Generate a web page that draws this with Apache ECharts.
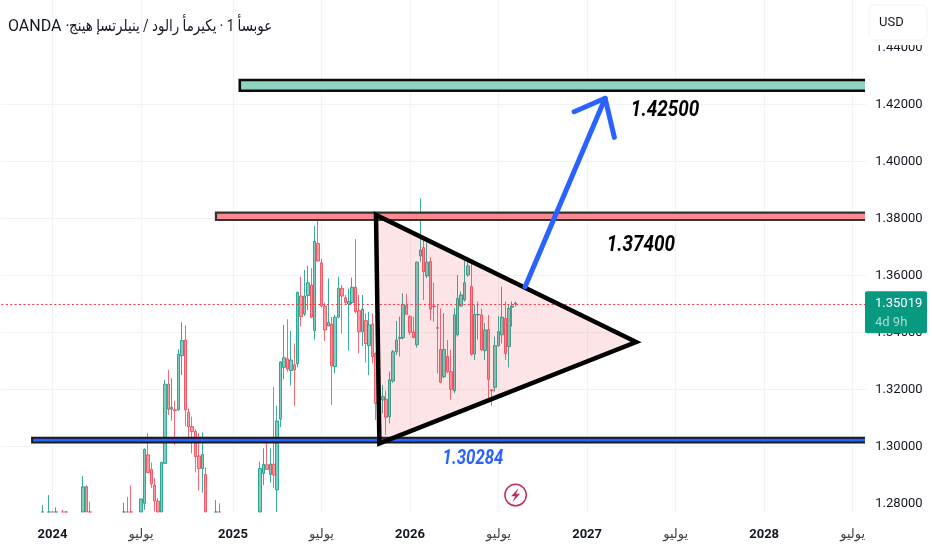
<!DOCTYPE html>
<html><head><meta charset="utf-8">
<style>html,body{margin:0;padding:0;background:#fff}#c{width:932px;height:550px}</style>
<script src="https://cdn.jsdelivr.net/npm/echarts@6/dist/echarts.min.js"></script>
</head><body><div id="c"></div>
<script>
const weekSlots = [12,14,15,16,18,19,24,25,26,36,37,38,41,42,43,44,45,46,47,48,49,50,51,52,53,54,55,56,57,58,59,60,63,64,76,77,78,79,80,81,82,83,84,85,86,87,88,89,90,91,92,93,94,95,96,97,98,99,100,101,102,103,104,105,106,107,108,109,110,111,112,113,114,115,116,117,118,119,120,121,122,123,124,125,126,127,128,129,130,131,132,133,134,135,136,137,138,139,140,141,142,143,144,145,146,147,148,149,150,151];
const opens = [1.268,1.268,1.274,1.27,1.274,1.274,1.27,1.2858,1.275,1.27,1.274,1.274,1.27,1.28,1.297,1.2919,1.2864,1.2808,1.272,1.294,1.3218,1.313,1.3128,1.3128,1.3318,1.3373,1.3119,1.3069,1.3052,1.2966,1.2922,1.2901,1.27,1.274,1.27,1.2905,1.2935,1.2901,1.2937,1.2847,1.3095,1.3277,1.3307,1.3266,1.3286,1.329,1.3527,1.3464,1.3529,1.3566,1.3406,1.3712,1.3644,1.3492,1.3422,1.3429,1.328,1.3453,1.3554,1.3521,1.3499,1.3504,1.3558,1.3476,1.3402,1.3441,1.3353,1.3429,1.3326,1.3133,1.3163,1.3165,1.3104,1.3229,1.3332,1.3379,1.3381,1.3494,1.3455,1.3401,1.3356,1.3668,1.3697,1.3598,1.3648,1.3492,1.3416,1.334,1.3244,1.3315,1.3262,1.3195,1.3391,1.3492,1.3514,1.3601,1.356,1.3324,1.3461,1.3461,1.3336,1.341,1.3198,1.3207,1.3353,1.3391,1.3449,1.335,1.3488,1.3499];
const closes = [1.272,1.274,1.27,1.274,1.27,1.27,1.2858,1.272,1.27,1.274,1.27,1.27,1.2815,1.2989,1.2908,1.2868,1.2808,1.272,1.2944,1.3218,1.313,1.3136,1.3125,1.3323,1.3371,1.3128,1.3069,1.3052,1.2964,1.2922,1.2972,1.27,1.274,1.27,1.2922,1.2937,1.2919,1.2938,1.2899,1.3089,1.3296,1.3311,1.3271,1.3303,1.3268,1.354,1.3455,1.3527,1.3574,1.3453,1.372,1.365,1.3492,1.3408,1.3435,1.3282,1.3453,1.3554,1.3527,1.3505,1.3508,1.3558,1.3473,1.3402,1.3481,1.3361,1.3426,1.3315,1.3151,1.3163,1.3174,1.3102,1.3233,1.3332,1.3373,1.3381,1.3498,1.3463,1.34,1.3382,1.3646,1.3689,1.3613,1.3646,1.3481,1.349,1.3414,1.3225,1.334,1.3262,1.32,1.3461,1.3519,1.3531,1.3574,1.3633,1.3323,1.3463,1.3463,1.3338,1.3408,1.3235,1.3195,1.3353,1.3402,1.3453,1.3326,1.3484,1.3492,1.3502];
const lows = [1.265,1.265,1.268,1.268,1.268,1.268,1.268,1.27,1.268,1.268,1.268,1.268,1.268,1.2777,1.2905,1.2853,1.2771,1.27,1.27,1.294,1.311,1.309,1.3005,1.3125,1.325,1.3071,1.3022,1.2975,1.2908,1.2844,1.2837,1.268,1.268,1.268,1.268,1.2864,1.2917,1.2873,1.2853,1.2765,1.3067,1.3235,1.3262,1.3213,1.3142,1.3277,1.342,1.3457,1.3478,1.3449,1.3375,1.3648,1.3487,1.337,1.3422,1.3145,1.3256,1.3449,1.3396,1.3496,1.3336,1.3499,1.3467,1.3326,1.3352,1.3294,1.325,1.3291,1.3092,1.3011,1.3116,1.304,1.3081,1.3223,1.332,1.3315,1.3375,1.3461,1.3391,1.3379,1.3346,1.3648,1.3513,1.359,1.3441,1.3437,1.3256,1.3221,1.3239,1.3256,1.3163,1.3186,1.3385,1.349,1.3508,1.3595,1.3318,1.3303,1.3375,1.3336,1.3303,1.3168,1.3142,1.3192,1.335,1.3361,1.3303,1.3277,1.342,1.349];
const highs = [1.2794,1.2829,1.2771,1.2786,1.2777,1.2773,1.2896,1.2864,1.2806,1.2802,1.2823,1.2863,1.2817,1.2993,1.3046,1.2943,1.2888,1.2818,1.2944,1.3233,1.3268,1.3239,1.316,1.334,1.3435,1.3425,1.3133,1.3104,1.306,1.3046,1.3049,1.2926,1.2812,1.28,1.2946,1.2993,1.3016,1.2993,1.3209,1.3142,1.3299,1.3426,1.3446,1.3405,1.3361,1.3543,1.3595,1.3619,1.3633,1.3625,1.3773,1.3791,1.3658,1.3504,1.3589,1.3455,1.3461,1.3595,1.3566,1.3531,1.3554,1.3592,1.3727,1.3531,1.3531,1.3467,1.3472,1.3467,1.3329,1.3174,1.3215,1.3195,1.3262,1.3338,1.344,1.3455,1.3537,1.3534,1.3461,1.3455,1.3648,1.387,1.3733,1.3715,1.3663,1.3574,1.3496,1.3484,1.3467,1.3373,1.3338,1.3484,1.3601,1.3543,1.3654,1.3656,1.365,1.3496,1.3508,1.3484,1.3432,1.3461,1.32,1.3385,1.3457,1.356,1.3508,1.3496,1.3508,1.3508];
const slotCount = 255;
const timeTickSlots = [15,41,68,94,120,146,172,198,224,250];
const timeTickLabels = ['2024','يوليو','2025','يوليو','2026','يوليو','2027','يوليو','2028','يوليو'];
const priceTicks = [1.28,1.30,1.32,1.34,1.36,1.38,1.40,1.42,1.44];
const priceMin = 1.27695, priceMax = 1.4566;
const lastPrice = 1.35019;
const lastPriceLabel = '1.35019';
const countdown = '4d 9h';
const supportZone = [9, 254.5, 1.3013, 1.3030];
const resistZone = [63, 254.5, 1.3794, 1.38196];
const targetZone = [70, 254.5, 1.42478, 1.42853];
const triangle = [[110,1.3812],[111,1.3010],[186.4,1.3366]];
const arrowShaft = [[153.8,1.356],[177.3,1.4221]];
const arrowHead = [[168.2,1.4174],[177.3,1.4221],[180,1.4084]];
const priceNotes = [['1.42500',194.9,1.4178],['1.37400',187.8,1.3706],['1.30284',138.5,1.2955]];
const eventMark = [151,1.2829];
const titleLatin = 'OANDA ·';
const titleArabic = '\u202Dجنيه إسترليني / دولار أمريكي · 1 أسبوع\u202C';

const FONT = 'Roboto, "Noto Sans", "DejaVu Sans", sans-serif';
const W = 3.405;
const slots = Array.from({length: slotCount}, (_, i) => String(i));
const candleData = slots.map(() => '-');
// the candle layout does not cut a box at the plot edge, so values under the plot are held at its floor
const floor = v => v < priceMin ? priceMin + (v - 1.26) * 0.0005 : v;
weekSlots.forEach((s, i) => { candleData[s] = [floor(opens[i]), floor(closes[i]), floor(lows[i]), floor(highs[i])]; });
const tickIdx = i => timeTickSlots.indexOf(i) >= 0;
const plotClip = {type:'rect', shape:{x:0, y:0, width:865, height:512}};

function zoneShape(api, z, fill, stroke, lw) {
  const a = api.coord([z[0], z[3]]), b = api.coord([z[1], z[2]]);
  return {type:'rect', shape:{x:a[0], y:a[1], width:b[0]-a[0], height:b[1]-a[1]},
    clipPath:plotClip, style:{fill, stroke, lineWidth:lw}};
}
const items = [
  api => zoneShape(api, targetZone, '#8fd3c3', '#0a0a0a', 2.6),
  api => zoneShape(api, resistZone, '#f98b90', '#333', 2.2),
  api => zoneShape(api, supportZone, '#2962ff', '#1a1a1a', 2),
  api => ({type:'polygon', shape:{points:triangle.map(p => api.coord(p))},
    style:{fill:'rgba(242,54,69,0.13)', stroke:'#000', lineWidth:4.5, lineJoin:'miter'}}),
  api => ({type:'polyline', shape:{points:arrowShaft.map(p => api.coord(p))},
    style:{fill:'none', stroke:'#2962ff', lineWidth:5, lineCap:'round'}}),
  api => ({type:'polyline', shape:{points:arrowHead.map(p => api.coord(p))},
    style:{fill:'none', stroke:'#2962ff', lineWidth:5, lineCap:'round', lineJoin:'round'}}),
  ...priceNotes.map((n, i) => api => {
    const c = api.coord([n[1], n[2]]);
    return {type:'text', x:c[0], y:c[1], scaleX:i === 2 ? 0.8 : 0.84,
      style:{text:n[0], font:'italic bold ' + (i === 2 ? 21 : 22.5) + 'px ' + FONT,
        fill:i === 2 ? '#2962ff' : '#000', textAlign:'center', textVerticalAlign:'middle'}};
  }),
  api => {
    const c = api.coord(eventMark);
    return {type:'group', x:c[0], y:c[1], children:[
      {type:'circle', shape:{cx:0, cy:0, r:10.7}, style:{fill:'#fff', stroke:'#c2305a', lineWidth:1.5}},
      {type:'polygon', shape:{points:[[3,-7],[-4.5,1.2],[-0.5,1.2],[-3,7],[4.5,-1.2],[0.5,-1.2]]}, style:{fill:'#c2305a'}}
    ]};
  },
  api => {
    const c = api.coord([253.5, lastPrice]);
    return {type:'group', x:865, y:c[1], children:[
      {type:'rect', shape:{x:0, y:-12, width:62, height:42, r:2}, style:{fill:'#089981'}},
      {type:'text', x:10, y:0, style:{text:lastPriceLabel, font:'13px ' + FONT, fill:'#fff', textVerticalAlign:'middle'}},
      {type:'text', x:10, y:19, style:{text:countdown, font:'13px ' + FONT, fill:'#a8ddd2', textVerticalAlign:'middle'}}
    ]};
  }
];

const chart = echarts.init(document.getElementById('c'), null, {renderer:'canvas', width:932, height:550});
chart.setOption({
  animation:false,
  backgroundColor:'#fff',
  textStyle:{fontFamily:FONT},
  grid:{left:1.44, top:0, width:(slotCount-1)*W, height:512, containLabel:false},
  xAxis:[
    {type:'category', data:slots, boundaryGap:false, axisLine:{show:false}, axisTick:{show:false},
     splitLine:{show:true, interval:tickIdx, lineStyle:{color:'#f2f3f5', width:1}},
     axisLabel:{interval:tickIdx, margin:16, hideOverlap:false,
       formatter:(v) => { const k = timeTickSlots.indexOf(+v); const t = timeTickLabels[k];
         return /^\d/.test(t) ? '{y|' + t + '}' : '{m|' + t + '}'; },
       rich:{y:{fontFamily:FONT, fontWeight:'bold', fontSize:13, color:'#131722'},
             m:{fontFamily:FONT, fontSize:13, color:'#444'}}}},
    {type:'value', min:0, max:slotCount-1, show:false, splitLine:{show:false}}
  ],
  yAxis:{type:'value', position:'right', min:priceMin, max:priceMax,
    axisLine:{show:false}, axisTick:{show:false, customValues:priceTicks},
    splitLine:{show:true, showMinLine:false, showMaxLine:false, lineStyle:{color:'#f2f3f5', width:1}},
    axisLabel:{margin:9, align:'left', fontFamily:FONT, fontSize:13, color:'#131722', padding:[2,0,0,0],
      customValues:priceTicks, formatter:v => v.toFixed(5)}},
  series:[
    {type:'candlestick', xAxisIndex:0, yAxisIndex:0, data:candleData, barWidth:3, z:3,
     itemStyle:{color:'rgba(8,153,129,0.5)', color0:'rgba(242,54,69,0.5)', borderColor:'rgba(8,153,129,0.8)', borderColor0:'rgba(242,54,69,0.75)', borderWidth:1},
     markLine:{silent:true, symbol:'none', label:{show:false},
       lineStyle:{color:'#f23645', type:[2,2.4], width:1},
       data:[{yAxis:lastPrice}]}},
    {type:'custom', xAxisIndex:1, yAxisIndex:0, z:10, silent:true,
     data:items.map((_, i) => [i, 1.3]), encode:{x:0, y:1},
     renderItem:(params, api) => items[params.dataIndex](api)}
  ],
  graphic:[
    {type:'text', x:8, y:18.5, silent:true, z:100, style:{text:titleLatin, font:'16px ' + FONT, fill:'#131722'}},
    {type:'text', x:69, y:18.5, scaleX:0.84, silent:true, z:100, style:{text:titleArabic, font:'16px ' + FONT, fill:'#131722'}},
    {type:'rect', x:869, y:40, z:99, shape:{width:58, height:5}, style:{fill:'#fff'}},
    {type:'rect', x:869, y:5, z:100, shape:{width:58, height:35, r:6}, style:{fill:'#fff', stroke:'#f2f3f6', lineWidth:1}},
    {type:'text', x:879, y:16, z:101, style:{text:'USD', font:'13px ' + FONT, fill:'#131722'}}
  ]
});
</script></body></html>
